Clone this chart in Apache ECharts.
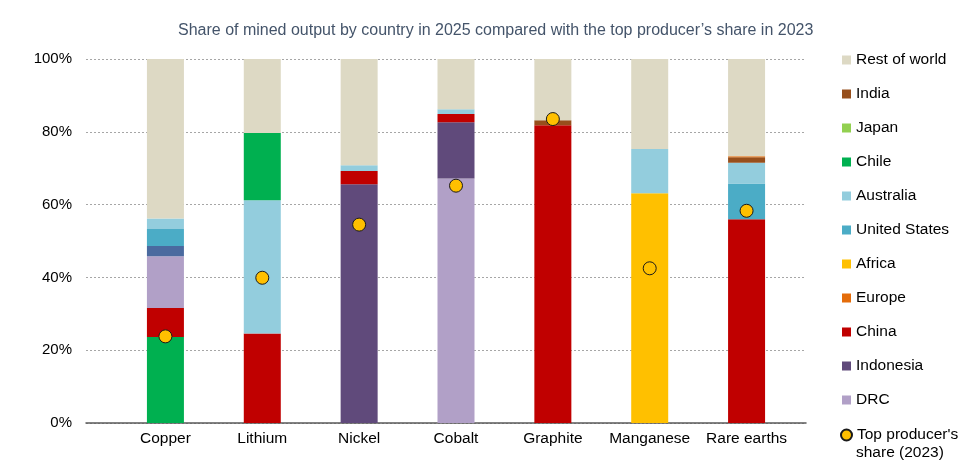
<!DOCTYPE html>
<html>
<head>
<meta charset="utf-8">
<script src="https://cdn.jsdelivr.net/npm/echarts@6/dist/echarts.min.js"></script>
<style>html,body{margin:0;padding:0;background:#fff}#c{width:974px;height:463px}</style>
</head>
<body>
<div id="c"></div>
<script>
// ---- Data (percent share of mined output) ----
const minerals = ['Copper', 'Lithium', 'Nickel', 'Cobalt', 'Graphite', 'Manganese', 'Rare earths'];
const yTicks = [0, 20, 40, 60, 80, 100];

// segments are split where the stacking position differs between bars
const chileLower     = [23.6, null, null, null, null, null, null];
const drcLower       = [null, null, null, 67.2, null, null, null];
const indonesia      = [null, null, 65.6, 15.4, null, null, null];
const china          = [8.0, 24.6, 3.6, 2.3, 81.8, null, 56.0];
const africa         = [null, null, null, null, null, 63.1, null];
const drcUpper       = [14.2, null, null, null, null, null, null];
const otherCountries = [2.8, null, null, null, null, null, null];
const unitedStates   = [4.7, null, null, null, null, null, 9.8];
const australia      = [2.9, 36.6, 1.6, 1.3, null, 12.2, 5.7];
const chileUpper     = [null, 18.5, null, null, null, null, null];
const japan          = [null, null, null, null, null, null, null];
const india          = [null, null, null, null, 1.4, null, 1.5];
const europe         = [null, null, null, null, null, null, 0.3];
const restOfWorld    = [43.8, 20.3, 29.2, 13.8, 16.8, 24.7, 26.7];
const topProducer2023 = [23.8, 39.9, 54.5, 65.2, 83.5, 42.5, 58.3];

const colors = {
  'Rest of world': '#DDD9C4', 'India': '#974F1C', 'Japan': '#92D050', 'Chile': '#00B050',
  'Australia': '#93CDDD', 'United States': '#4BACC6', 'Africa': '#FFC000', 'Europe': '#E46C0A',
  'China': '#C00000', 'Indonesia': '#604A7B', 'DRC': '#B1A0C7', 'Other': '#4A6A9F'
};

const layers = [
  ['Chile', chileLower], ['DRC', drcLower], ['Indonesia', indonesia], ['China', china],
  ['Africa', africa], ['DRC', drcUpper], ['Other', otherCountries], ['United States', unitedStates],
  ['Australia', australia], ['Chile', chileUpper], ['Japan', japan], ['India', india],
  ['Europe', europe], ['Rest of world', restOfWorld]
];

const legendOrder = ['Rest of world', 'India', 'Japan', 'Chile', 'Australia', 'United States',
  'Africa', 'Europe', 'China', 'Indonesia', 'DRC'];

const font = 'Liberation Sans, Arial, sans-serif';

const series = layers.map(([name, data]) => ({
  name: name, type: 'bar', stack: 'share', xAxisIndex: 1, yAxisIndex: 1,
  barWidth: 37, data: data, itemStyle: { color: colors[name] }
}));
series.push({
  name: "Top producer's share (2023)", type: 'scatter', xAxisIndex: 1, yAxisIndex: 1,
  data: topProducer2023, symbol: 'circle', symbolSize: 13, z: 5,
  itemStyle: { color: '#FFC000', borderColor: '#1a1a1a', borderWidth: 1, opacity: 1 }
});

const chart = echarts.init(document.getElementById('c'));
chart.setOption({
  animation: false,
  backgroundColor: '#fff',
  title: {
    text: 'Share of mined output by country in 2025 compared with the top producer\u2019s share in 2023',
    left: 173, top: 18,
    textStyle: { fontFamily: font, fontSize: 16, fontWeight: 'normal', color: '#44546A' }
  },
  legend: [{
    data: legendOrder, orient: 'vertical', left: 842, top: 52, padding: 0,
    itemWidth: 9, itemHeight: 9, itemGap: 18, icon: 'rect',
    textStyle: { fontFamily: font, fontSize: 15.5, color: '#000' }
  }, {
    data: ["Top producer's share (2023)"], orient: 'vertical', left: 840, top: 427, padding: 0,
    itemWidth: 11, itemHeight: 11, icon: 'circle',
    formatter: () => "Top producer's",
    textStyle: { fontFamily: font, fontSize: 15.5, color: '#000' }
  }],
  graphic: [{
    type: 'text', left: 856, top: 445,
    style: { text: 'share (2023)', font: '15.5px ' + font, fill: '#000' }
  }],
  grid: [
    { left: 86, right: 168, top: 59, bottom: 40 },
    { left: 117, right: 179, top: 59, bottom: 40 }
  ],
  xAxis: [{
    gridIndex: 0, type: 'category', data: [''],
    axisLine: { show: true, lineStyle: { color: '#595959', width: 1.5 } },
    axisTick: { show: false }, axisLabel: { show: false }
  }, {
    gridIndex: 1, type: 'category', data: minerals,
    axisLine: { show: false }, axisTick: { show: false },
    axisLabel: { margin: 8, fontFamily: font, fontSize: 15.5, color: '#000', interval: 0 }
  }],
  yAxis: [{
    gridIndex: 0, type: 'value', min: yTicks[0], max: yTicks[yTicks.length - 1], interval: 20,
    axisLine: { show: false }, axisTick: { show: false },
    axisLabel: { margin: 14, fontFamily: font, fontSize: 15, color: '#000', formatter: '{value}%' },
    splitLine: { show: true, lineStyle: { color: '#A6A6A6', type: [2, 2], width: 1 } }
  }, {
    gridIndex: 1, type: 'value', min: 0, max: 100, show: false, splitLine: { show: false }
  }],
  series: series
});
</script>
</body>
</html>
